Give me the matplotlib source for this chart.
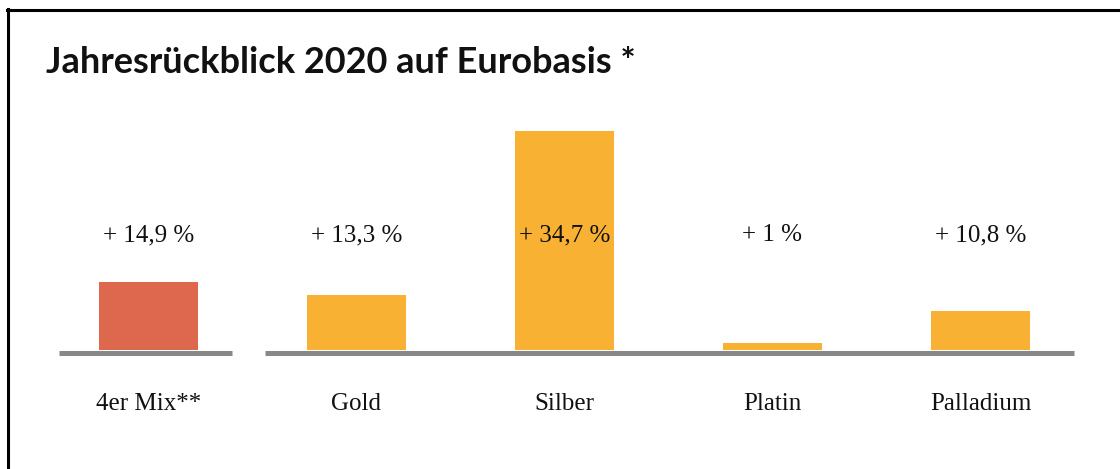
import matplotlib
matplotlib.use("Agg")
import matplotlib.pyplot as plt
from matplotlib.lines import Line2D

# data
categories = ["4er Mix**", "Gold", "Silber", "Platin", "Palladium"]
value_labels = ["+ 14,9 %", "+ 13,3 %", "+ 34,7 %", "+ 1 %", "+ 10,8 %"]
bar_heights = [14.9, 12.1, 48.0, 1.5, 8.55]
bar_colors = ["#DE684D", "#F8B133", "#F8B133", "#F8B133", "#F8B133"]

W, H = 1120, 469
fig = plt.figure(figsize=(W / 100, H / 100), dpi=100)
ax = fig.add_axes([0, 0, 1, 1])
ax.set_axis_off()

# pixel scale: bar spacing 208 px, 4.56 px per unit, baseline 119 px from bottom
sx, sy = 208.0, 4.56
x0, y0 = 148.5, 119.0
ax.set_xlim(-x0 / sx, (W - x0) / sx)
ax.set_ylim(-y0 / sy, (H - y0) / sy)

xs = list(range(len(categories)))
ax.bar(xs, bar_heights, width=99 / sx, color=bar_colors, zorder=2)

# grey baseline in two pieces
lw = 5 * 72 / 100
yb = -2.5 / sy
ax.plot([-0.43, 0.40], [yb, yb], color="#888888", lw=lw, solid_capstyle="butt", zorder=1)
ax.plot([0.56, 4.45], [yb, yb], color="#888888", lw=lw, solid_capstyle="butt", zorder=1)

serif = ["Liberation Serif", "DejaVu Serif"]
for x, lab, cat in zip(xs, value_labels, categories):
    ax.text(x, 109 / sy, lab, ha="center", va="baseline", fontsize=18,
            family=serif, color="#111111", zorder=3)
    ax.text(x, -60 / sy, cat, ha="center", va="baseline", fontsize=18,
            family=serif, color="#111111", zorder=3)

fig.text(46 / W, 1 - 73 / H, "Jahresrückblick 2020 auf Eurobasis *",
         ha="left", va="baseline", fontsize=26, fontweight="bold",
         family=["Lato", "DejaVu Sans"], color="#111111")

# frame: top and left edges
fig.add_artist(Line2D([7 / W, 1], [1 - 10.5 / H, 1 - 10.5 / H], color="black",
                      lw=2.2, transform=fig.transFigure))
fig.add_artist(Line2D([8 / W, 8 / W], [0, 1 - 9 / H], color="black",
                      lw=2.2, transform=fig.transFigure))

fig.savefig("out.png", dpi=100)
